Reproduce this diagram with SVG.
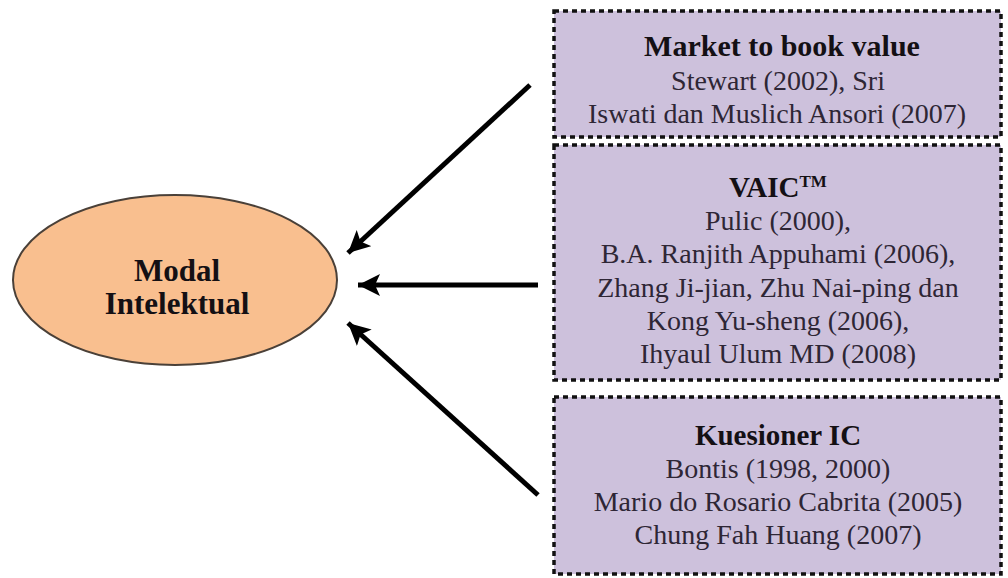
<svg xmlns="http://www.w3.org/2000/svg" width="1008" height="578" viewBox="0 0 1008 578">
<style>
.box{fill:#cdc1dc;stroke:#111;stroke-width:3.5;stroke-dasharray:5 4}
.t{font-family:"Liberation Serif","Times New Roman",serif;font-size:28px;fill:#2e2635;text-anchor:middle}
.b{font-weight:bold;fill:#141014;font-size:29px}
.conn{stroke:#000;stroke-width:5;fill:none}
</style>
<defs>
<marker id="ah" markerUnits="userSpaceOnUse" markerWidth="24" markerHeight="22" refX="22" refY="11" orient="auto">
<path d="M0,0 L22,11 L0,22 L5,11 Z" fill="#000"/>
</marker>
</defs>
<rect width="1008" height="578" fill="#fff"/>
<g id="modal-intelektual">
<ellipse cx="175" cy="280" rx="162" ry="85" fill="#f9bf8f" stroke="#4a4038" stroke-width="2"/>
<text class="t b" x="177" y="281" style="font-size:31px">Modal</text>
<text class="t b" x="177" y="314" style="font-size:31px">Intelektual</text>
</g>
<g id="market-to-book">
<rect class="box" x="554" y="11" width="447" height="126"/>
<text class="t b" x="782" y="56" style="font-size:30px">Market to book value</text>
<text class="t" x="778" y="90">Stewart (2002), Sri</text>
<text class="t" x="777" y="123">Iswati dan Muslich Ansori (2007)</text>
</g>
<g id="vaic">
<rect class="box" x="554" y="145" width="447" height="235"/>
<text class="t b" x="778" y="197">VAIC<tspan font-size="17" dy="-10">TM</tspan></text>
<text class="t" x="778" y="230">Pulic (2000),</text>
<text class="t" x="778" y="263">B.A. Ranjith Appuhami (2006),</text>
<text class="t" x="778" y="297">Zhang Ji-jian, Zhu Nai-ping dan</text>
<text class="t" x="778" y="330">Kong Yu-sheng (2006),</text>
<text class="t" x="778" y="363">Ihyaul Ulum MD (2008)</text>
</g>
<g id="kuesioner-ic">
<rect class="box" x="554" y="397" width="447" height="177"/>
<text class="t b" x="778" y="445">Kuesioner IC</text>
<text class="t" x="778" y="478">Bontis (1998, 2000)</text>
<text class="t" x="778" y="511">Mario do Rosario Cabrita (2005)</text>
<text class="t" x="778" y="544">Chung Fah Huang (2007)</text>
</g>
<g id="connectors">
<line class="conn" x1="530" y1="85" x2="348" y2="253" marker-end="url(#ah)"/>
<line class="conn" x1="538" y1="285" x2="358" y2="285" marker-end="url(#ah)"/>
<line class="conn" x1="538" y1="495" x2="348" y2="323" marker-end="url(#ah)"/>
</g>
</svg>
